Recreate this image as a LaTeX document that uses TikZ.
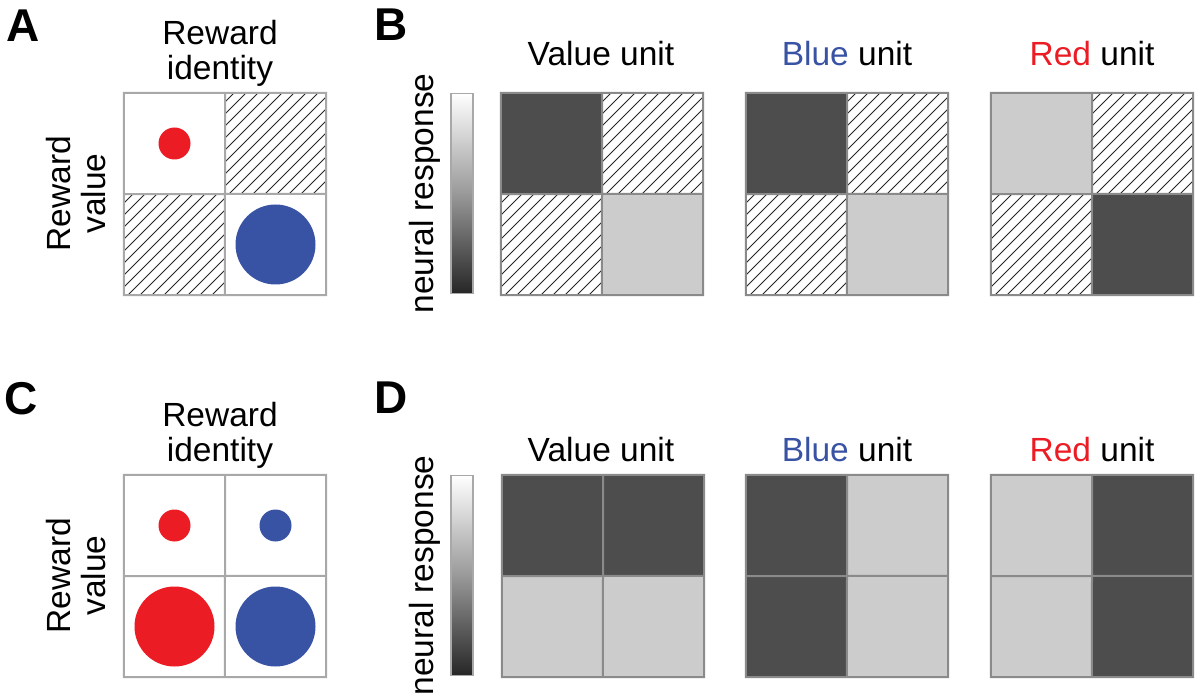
\documentclass[tikz,border=0pt]{standalone}
\usepackage{fontspec}
\setmainfont{Liberation Sans}
\usetikzlibrary{positioning}
\definecolor{RewardRed}{RGB}{236,28,36}
\definecolor{RewardBlue}{RGB}{57,83,164}
\definecolor{darkcell}{RGB}{77,77,77}
\definecolor{lightcell}{RGB}{204,204,204}
\definecolor{gridgrey}{RGB}{168,168,168}
\definecolor{unitgrey}{RGB}{138,138,138}
\tikzset{
  cell/.style={rectangle, minimum size=101pt, inner sep=0pt},
  plainfill/.style={cell, fill=white},
  darkfill/.style={cell, fill=darkcell},
  lightfill/.style={cell, fill=lightcell},
  hatchfill/.style={cell, fill=white, path picture={
      \foreach \k in {-10,...,10}
        \draw[black!85, line width=0.9pt] ([xshift=\k*12pt+4pt]path picture bounding box.south west) -- ++(130,-130);}},
  dot/.style={circle, inner sep=0pt},
  cbar/.style={rectangle, draw=gridgrey, line width=1.5pt, minimum width=22pt, minimum height=200pt,
      top color=white, bottom color=black!85, middle color=black!40},
  lbl/.style={font=\fontsize{33.5}{35}\selectfont, inner sep=0pt},
  letter/.style={font=\fontsize{46}{46}\selectfont\bfseries, inner sep=0pt, anchor=base west}
}
\begin{document}
\begin{tikzpicture}[x=1pt, y=-1pt]
  \useasboundingbox (0,0) rectangle (1200,700);
  % panel letters
  \node[letter] (lA) at (6,42) {A};
  \node[letter] (lB) at (374,41) {B};
  \node[letter] (lC) at (4,415) {C};
  \node[letter] (lD) at (374,414) {D};

  % grids: name/left/top/border/cell styles (11 12 21 22)
  \foreach \nm/\x/\y/\bd/\sa/\sb/\sc/\sd in {a/124/93/gridgrey/plainfill/hatchfill/hatchfill/plainfill,
                                             bv/501/93/unitgrey/darkfill/hatchfill/hatchfill/lightfill,
                                             bb/746/93/unitgrey/darkfill/hatchfill/hatchfill/lightfill,
                                             br/991/93/unitgrey/lightfill/hatchfill/hatchfill/darkfill,
                                             c/124/475/gridgrey/plainfill/plainfill/plainfill/plainfill,
                                             dv/502/475/unitgrey/darkfill/darkfill/lightfill/lightfill,
                                             db/746/475/unitgrey/darkfill/lightfill/darkfill/lightfill,
                                             dr/991/475/unitgrey/lightfill/darkfill/lightfill/darkfill} {
    \node[\sa] (\nm-11) at (\x+50.5,\y+50.5) {};
    \node[\sb] (\nm-12) at (\x+151.5,\y+50.5) {};
    \node[\sc] (\nm-21) at (\x+50.5,\y+151.5) {};
    \node[\sd] (\nm-22) at (\x+151.5,\y+151.5) {};
    \draw[\bd, line width=2pt] (\nm-11.north west) rectangle (\nm-22.south east)
      (\nm-11.north east) -- (\nm-22.south west)
      (\nm-11.south west) -- (\nm-22.north east);
  }

  % reward dots
  \node[dot, fill=RewardRed, minimum size=32pt] (a-red) at (a-11) {};
  \node[dot, fill=RewardBlue, minimum size=80pt] (a-blue) at (a-22) {};
  \node[dot, fill=RewardRed, minimum size=32pt] (c-redsmall) at (c-11) {};
  \node[dot, fill=RewardBlue, minimum size=32pt] (c-bluesmall) at (c-12) {};
  \node[dot, fill=RewardRed, minimum size=80pt] (c-redbig) at (c-21) {};
  \node[dot, fill=RewardBlue, minimum size=80pt] (c-bluebig) at (c-22) {};

  % axis labels
  \foreach \nm/\y in {a/93, c/475} {
    \node[lbl, align=center, anchor=south] (\nm-ident) at (220,\y-6) {Reward\\identity};
    \node[lbl, align=center, anchor=south, rotate=90] (\nm-value) at (106,\y+100.5) {Reward\\value};
  }

  % colour bars
  \foreach \nm/\y in {b/93, d/475} {
    \node[cbar] (\nm-bar) at (462,\y+100.5) {};
    \node[lbl, rotate=90, anchor=base] (\nm-resp) at (433,\y+100.5) {neural response};
  }

  % unit titles
  \foreach \nm/\y in {b/66, d/461} {
    \node[lbl, anchor=base] (\nm-vtitle) at (601,\y) {Value unit};
    \node[lbl, anchor=base] (\nm-btitle) at (847,\y) {\textcolor{RewardBlue}{Blue} unit};
    \node[lbl, anchor=base] (\nm-rtitle) at (1092,\y) {\textcolor{RewardRed}{Red} unit};
  }
\end{tikzpicture}
\end{document}
